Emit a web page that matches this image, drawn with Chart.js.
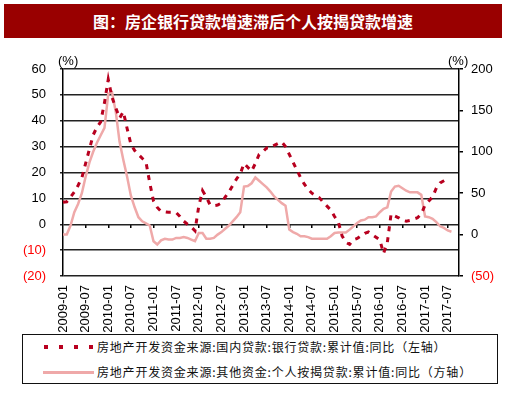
<!DOCTYPE html>
<html>
<head>
<meta charset="utf-8">
<script src="https://cdn.jsdelivr.net/npm/chart.js@4.4.0/dist/chart.umd.min.js"></script>
<style>
  body { margin: 0; background: #fff; }
  #wrap { position: relative; width: 512px; height: 396px; background: #fff; overflow: hidden; }
  #chart { position: absolute; left: 0; top: 0; }
  .title { position: absolute; left: 4px; top: 4px; width: 498px; height: 34px; background: #990000;
    color: #fff; font: bold 16px "Noto Sans CJK SC", sans-serif; line-height: 34px; text-align: center; }
  .unit { position: absolute; top: 53px; font: 13px "Liberation Sans", Arial, sans-serif; color: #000; }
  .legend { position: absolute; left: 22px; top: 334px; width: 476px; height: 50px; box-sizing: border-box;
    border: 1.5px solid #111; background: #fff; }
  .row { position: absolute; left: 0; height: 20px; width: 100%; }
  .row span.txt { position: absolute; left: 74px; top: 0; font: 12px "Noto Sans CJK SC", sans-serif;
    letter-spacing: 0.8px; line-height: 20px; color: #111; white-space: nowrap; }
  .sq { position: absolute; top: 8px; width: 4px; height: 4px; background: #B8001F; }
  .ln { position: absolute; left: 20px; top: 9px; width: 51px; height: 3px; background: #EFA9A9; }
</style>
</head>
<body>
<div id="wrap">
  <canvas id="chart" width="512" height="396"></canvas>
  <div class="title">图：房企银行贷款增速滞后个人按揭贷款增速</div>
  <span class="unit" style="left:58px">(%)</span>
  <span class="unit" style="left:448px">(%)</span>
  <div class="legend">
    <div class="row" style="top:2px">
      <div class="sq" style="left:21px"></div><div class="sq" style="left:36px"></div>
      <div class="sq" style="left:51px"></div><div class="sq" style="left:66px"></div>
      <span class="txt">房地产开发资金来源:国内贷款:银行贷款:累计值:同比（左轴）</span>
    </div>
    <div class="row" style="top:27px">
      <div class="ln"></div>
      <span class="txt">房地产开发资金来源:其他资金:个人按揭贷款:累计值:同比（方轴）</span>
    </div>
  </div>
</div>
<script>
// months 2009-01 .. 2017-10
const months = [];
for (let y = 2009; y <= 2017; y++) {
  for (let m = 1; m <= 12; m++) {
    if (y === 2017 && m > 10) break;
    months.push(y + '-' + (m < 10 ? '0' + m : m));
  }
}

const tickLabels = ['2009-01','2009-07','2010-01','2010-07','2011-01','2011-07','2012-01','2012-07',
  '2013-01','2013-07','2014-01','2014-07','2015-01','2015-07','2016-01','2016-07','2017-01','2017-07'];

// 银行贷款 累计同比 (左轴)
const bankLoan = [
  8.5, 8.7, 10.5, 12.5, 15, 18, 23.5, 29, 34.5, 37.5,
  39.6, 47, 56, 49, 45, 41, 43.5, 37, 31, 28.5,
  27, 25.5, 24, 16, 9, 6.5, 5, 4.8, 4.6, 4.6,
  4.5, 3, 1.2, 0, -1, -2.5, 7, 13, 10.5, 7.5,
  7.2, 7.4, 8.2, 10.5, 12.5, 15, 17.5, 19.5, 23.5, 22,
  20.5, 23.5, 27, 28, 29.5, 29.5, 30.5, 31.2, 31.8, 30,
  27, 24, 21, 18, 15.5, 13.5, 12, 11, 10.2, 8.5,
  7, 5.5, 3, 0.9, -4.5, -7, -7.8, -6, -5.5, -4.5,
  -3.5, -3, -4, -5, -6, -11.3, -7, 4, 3.2, 2.5,
  1.5, 1.2, 1.5, 2, 2.5, 4, 7.4, 9, 10.6, 14,
  16, 16.8, 17.7
];

// 个人按揭贷款 累计同比 (右轴)
const mortgage = [
  0, 0, 11, 27, 37, 50, 70, 87, 100, 111,
  120, 129, 170, 172, 148, 112, 90, 70, 47, 33,
  21, 16, 13.5, 11, -8, -12, -7, -5, -6, -6,
  -4, -4, -3, -4, -6, -8, 2, 2, -5, -5,
  -4, 0, 3, 7, 11, 16, 21, 27, 58, 58.6,
  62, 69, 65, 61, 57, 52, 46, 42, 38, 35,
  6, 3, 1, -2, -2, -3, -5, -5, -5, -5,
  -5, -2, 2, 2.5, 2.5, 2.5, 6, 10, 14, 17,
  18, 21, 21, 22, 27, 31, 33, 52, 58, 59,
  56, 53, 51, 51, 51, 48, 22, 21, 19, 15,
  10, 8, 5, 3.5
];

Chart.defaults.font.family = '"Liberation Sans", Arial, sans-serif';
Chart.defaults.font.size = 13;
Chart.defaults.color = '#000';

const negFmt = v => v < 0 ? '(' + (-v) + ')' : String(v);
const negColor = ctx => ctx.tick && ctx.tick.value < 0 ? '#FF0000' : '#000';

new Chart(document.getElementById('chart'), {
  type: 'line',
  data: {
    labels: months,
    datasets: [{
      label: '房地产开发资金来源:国内贷款:银行贷款:累计值:同比（左轴）',
      data: bankLoan,
      yAxisID: 'y',
      borderColor: '#B8001F',
      borderWidth: 3,
      borderDash: [5, 6],
      pointRadius: 0,
      tension: 0,
      fill: false
    }, {
      label: '房地产开发资金来源:其他资金:个人按揭贷款:累计值:同比（方轴）',
      data: mortgage,
      yAxisID: 'y1',
      borderColor: '#EFA9A9',
      borderWidth: 2.5,
      pointRadius: 0,
      tension: 0,
      fill: false
    }]
  },
  options: {
    responsive: false,
    animation: false,
    devicePixelRatio: 1,
    layout: { padding: { top: 69, left: 0, right: 0, bottom: 60 } },
    plugins: { legend: { display: false }, tooltip: { enabled: false } },
    scales: {
      x: {
        position: 'bottom',
        grid: { display: false, drawTicks: false },
        border: { display: false },
        ticks: {
          autoSkip: false, minRotation: 90, maxRotation: 90, padding: 9,
          font: { size: 13 },
          callback: function (v, i) { return tickLabels.includes(months[i]) ? months[i] : ''; }
        },
        afterFit: s => { s.height = 60; }
      },
      x2: {
        type: 'category',
        position: { y: 0 },
        grid: {
          drawOnChartArea: false, drawTicks: true, tickLength: 4, lineWidth: 1.5,
          color: ctx => (ctx.index % 6 === 0 && ctx.index > 0) ? '#000' : 'rgba(0,0,0,0)'
        },
        border: { display: false },
        ticks: { display: false, autoSkip: false }
      },
      y: {
        position: 'left',
        min: -20, max: 60,
        ticks: { stepSize: 10, padding: 14, callback: negFmt, color: negColor },
        grid: { color: '#222', lineWidth: 1.5, tickLength: 3 },
        border: { display: true, color: '#000', width: 1.5 },
        afterFit: s => { s.width = 63; }
      },
      y1: {
        position: 'right',
        min: -50, max: 200,
        ticks: { stepSize: 50, padding: 8, callback: negFmt, color: negColor },
        grid: { drawOnChartArea: false, color: '#000', lineWidth: 1.5, tickLength: 4 },
        border: { display: true, color: '#000', width: 1.5 },
        afterFit: s => { s.width = 53; }
      }
    }
  }
});
</script>
</body>
</html>
